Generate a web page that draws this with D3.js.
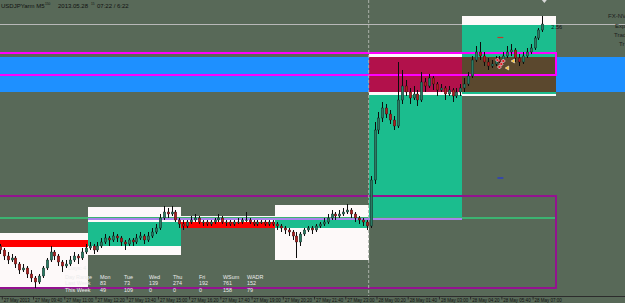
<!DOCTYPE html>
<html><head><meta charset="utf-8">
<script src="https://cdn.jsdelivr.net/npm/d3@7"></script>
<style>html,body{margin:0;padding:0;background:#586958;overflow:hidden}svg{display:block}</style>
</head><body><svg id="c" width="625" height="303"></svg>
<script>
// ---------- DATA ----------
const symbolTitle = "USDJPYarm M5";
const titleDate = "2013.05.28";
const titleTime = "07:22 / 6:22";
const candleStart = "2013-05-27 08:00";
const candleMinutes = 10;
// [open, high, low, close]
const candles = [
[101.29,101.31,101.25,101.27],[101.27,101.28,101.23,101.25],[101.25,101.26,101.20,101.22],[101.22,101.24,101.18,101.20],
[101.20,101.23,101.19,101.21],[101.21,101.22,101.16,101.18],[101.18,101.19,101.13,101.15],[101.15,101.18,101.14,101.16],
[101.16,101.17,101.11,101.13],[101.13,101.15,101.09,101.11],[101.11,101.12,101.06,101.09],[101.09,101.13,101.08,101.12],
[101.12,101.17,101.11,101.16],[101.16,101.21,101.15,101.20],[101.20,101.27,101.19,101.24],[101.24,101.25,101.20,101.22],
[101.22,101.23,101.17,101.19],[101.19,101.20,101.14,101.17],[101.17,101.20,101.16,101.18],[101.18,101.22,101.17,101.20],
[101.20,101.24,101.19,101.22],[101.22,101.23,101.18,101.21],[101.21,101.26,101.20,101.24],[101.24,101.28,101.23,101.26],
[101.26,101.29,101.25,101.27],[101.27,101.28,101.23,101.25],[101.25,101.29,101.24,101.27],[101.27,101.31,101.26,101.29],
[101.29,101.33,101.28,101.31],[101.31,101.32,101.27,101.30],[101.30,101.34,101.29,101.32],[101.32,101.33,101.29,101.31],
[101.31,101.32,101.27,101.29],[101.29,101.30,101.25,101.28],[101.28,101.31,101.27,101.30],[101.30,101.31,101.27,101.29],
[101.29,101.33,101.28,101.31],[101.31,101.34,101.30,101.32],[101.32,101.33,101.28,101.30],[101.30,101.34,101.29,101.32],
[101.32,101.36,101.31,101.34],[101.34,101.38,101.33,101.36],[101.36,101.43,101.35,101.41],[101.41,101.47,101.40,101.44],
[101.44,101.46,101.41,101.43],[101.43,101.47,101.42,101.44],[101.44,101.45,101.39,101.40],[101.40,101.41,101.36,101.38],
[101.38,101.40,101.35,101.37],[101.37,101.40,101.36,101.39],[101.39,101.42,101.38,101.40],[101.40,101.43,101.39,101.41],
[101.41,101.42,101.38,101.39],[101.39,101.40,101.37,101.39],[101.39,101.40,101.37,101.38],[101.38,101.40,101.37,101.39],
[101.39,101.41,101.38,101.40],[101.40,101.43,101.39,101.41],[101.41,101.42,101.38,101.39],[101.39,101.40,101.37,101.39],
[101.39,101.40,101.37,101.38],[101.38,101.40,101.37,101.39],[101.39,101.41,101.38,101.39],[101.39,101.41,101.38,101.40],
[101.40,101.44,101.39,101.40],[101.40,101.41,101.38,101.39],[101.39,101.40,101.37,101.38],[101.38,101.40,101.37,101.39],
[101.39,101.40,101.38,101.39],[101.39,101.40,101.37,101.38],[101.38,101.40,101.37,101.39],[101.39,101.40,101.37,101.38],
[101.38,101.39,101.35,101.37],[101.37,101.38,101.34,101.36],[101.36,101.37,101.33,101.35],[101.35,101.36,101.32,101.34],
[101.34,101.35,101.30,101.32],[101.32,101.34,101.21,101.29],[101.29,101.34,101.27,101.33],[101.33,101.36,101.32,101.35],
[101.35,101.37,101.34,101.36],[101.36,101.37,101.33,101.35],[101.35,101.38,101.34,101.37],[101.37,101.39,101.36,101.38],
[101.38,101.41,101.37,101.39],[101.39,101.43,101.38,101.41],[101.41,101.45,101.40,101.43],[101.43,101.44,101.40,101.42],
[101.42,101.45,101.41,101.43],[101.43,101.46,101.42,101.44],[101.44,101.48,101.43,101.45],[101.45,101.46,101.41,101.43],
[101.43,101.44,101.39,101.41],[101.41,101.42,101.38,101.40],[101.40,101.41,101.37,101.39],[101.39,101.40,101.35,101.37],
[101.37,101.62,101.36,101.60],[101.60,101.89,101.58,101.85],[101.85,101.94,101.83,101.91],[101.91,101.99,101.89,101.96],
[101.96,101.98,101.91,101.93],[101.93,101.95,101.88,101.90],[101.90,101.92,101.85,101.87],[101.87,102.19,101.86,102.00],
[102.00,102.15,101.98,102.07],[102.07,102.10,102.02,102.04],[102.04,102.06,101.98,102.01],[102.01,102.07,102.00,102.03],
[102.03,102.05,101.97,102.00],[102.00,102.14,101.99,102.09],[102.09,102.11,102.04,102.07],[102.07,102.13,102.06,102.11],
[102.11,102.12,102.05,102.08],[102.08,102.09,102.02,102.05],[102.05,102.08,102.04,102.06],[102.06,102.07,102.00,102.03],
[102.03,102.07,102.02,102.05],[102.05,102.06,101.99,102.02],[102.02,102.06,102.01,102.04],[102.04,102.08,102.02,102.06],
[102.06,102.11,102.04,102.08],[102.08,102.14,102.07,102.12],[102.12,102.22,102.11,102.20],[102.20,102.27,102.19,102.24],
[102.24,102.29,102.20,102.22],[102.22,102.24,102.17,102.19],[102.19,102.21,102.15,102.17],[102.17,102.20,102.16,102.18],
[102.18,102.22,102.17,102.20],[102.20,102.22,102.17,102.19],[102.19,102.24,102.18,102.22],[102.22,102.27,102.21,102.24],
[102.24,102.28,102.22,102.25],[102.25,102.26,102.19,102.21],[102.21,102.23,102.17,102.19],[102.19,102.24,102.18,102.22],
[102.22,102.26,102.21,102.24],[102.24,102.28,102.23,102.26],[102.26,102.32,102.25,102.31],[102.31,102.36,102.30,102.35],
[102.35,102.42,102.34,102.38]
];
const currentPrice = 102.38;
const spreadLabel = "2.56";

// session boxes: [from, to, high, low]
const rangeBoxes = [
 ["2013-05-27 08:00","2013-05-27 12:00",101.335,101.06],
 ["2013-05-27 12:00","2013-05-27 16:00",101.465,101.225],
 ["2013-05-27 16:00","2013-05-27 20:00",101.42,101.39],
 ["2013-05-27 20:00","2013-05-28 00:00",101.475,101.20],
 ["2013-05-28 00:00","2013-05-28 04:00",102.24,102.025],
 ["2013-05-28 04:00","2013-05-28 08:00",102.42,102.02]
];
// session bands: [from, to, high, low, direction]
const bandBoxes = [
 ["2013-05-27 08:00","2013-05-27 12:00",101.30,101.265,"down"],
 ["2013-05-27 12:00","2013-05-27 16:00",101.39,101.27,"up"],
 ["2013-05-27 16:00","2013-05-27 20:00",101.39,101.36,"down"],
 ["2013-05-27 20:00","2013-05-28 00:00",101.405,101.36,"up"],
 ["2013-05-28 00:00","2013-05-28 04:00",102.025,101.41,"up"],
 ["2013-05-28 04:00","2013-05-28 08:00",102.375,102.03,"up"]
];
// zone overlays: [from, to, high, low, kind]
const zoneBoxes = [
 ["2013-05-28 00:00","2013-05-28 04:00",102.215,102.04,"supply"],
 ["2013-05-28 04:00","2013-05-28 08:00",102.215,102.04,"active"]
];
const dailyZone = [102.215, 102.04];
const weeklyRect = ["2013-05-27 08:00","2013-05-28 08:00",102.235,102.125];
const dayRect = ["2013-05-27 08:00","2013-05-28 08:00",101.52,101.06];
const pivotLevel = ["2013-05-27 08:00","2013-05-28 08:00",101.41];
const midLevel = ["2013-05-27 12:00","2013-05-28 04:00",101.405];
const daySeparator = "2013-05-28 00:00";
const tradeMarks = [
 ["2013-05-28 05:30",102.20,"open"],["2013-05-28 05:45",102.195,"open"],
 ["2013-05-28 05:35",102.165,"open"],["2013-05-28 05:40",102.18,"open"],
 ["2013-05-28 06:10",102.195,"close"],["2013-05-28 05:55",102.16,"close"]
];
const blueDash = ["2013-05-28 05:30","2013-05-28 05:45",101.61];
const redDash = ["2013-05-28 05:30","2013-05-28 05:45",102.3125];

const tickTimes = ["2013-05-27 08:20","2013-05-27 09:40","2013-05-27 11:00","2013-05-27 12:20","2013-05-27 13:40","2013-05-27 15:00","2013-05-27 16:20","2013-05-27 17:40","2013-05-27 19:00","2013-05-27 20:20","2013-05-27 21:40","2013-05-27 23:00","2013-05-28 00:20","2013-05-28 01:40","2013-05-28 03:00","2013-05-28 04:20","2013-05-28 05:40","2013-05-28 07:00"];
const tickLabels = ["27 May 2013","27 May 09:40","27 May 11:00","27 May 12:20","27 May 13:40","27 May 15:00","27 May 16:20","27 May 17:40","27 May 19:00","27 May 20:20","27 May 21:40","27 May 23:00","28 May 00:20","28 May 01:40","28 May 03:00","28 May 04:20","28 May 05:40","28 May 07:00"];

const tableHeader = ["Day Range","Mon","Tue","Wed","Thu","Fri","WSum","WADR"];
const lastWeek = ["Last Week","83","73","139","274","192","761","152"];
const thisWeek = ["This Week","49","109","0","0","0","158","79"];
const panelLabels = ["FX-NV","Exp","Trad","Tr"];

// ---------- DRAW ----------
const W = 625, H = 303;
const parse = d3.timeParse("%Y-%m-%d %H:%M");
const svg = d3.select("#c");
const x = d3.scaleTime().domain([parse("2013-05-27 08:00"), parse("2013-05-28 08:00")]).range([-6, 556]);
const y = d3.scaleLinear().domain([101.00, 102.50]).range([300, 0]);
const col = {bg:"#586958", blue:"#1e90ff", white:"#fdf9f9", up:"#1bbd8e", down:"#ff0000",
  supply:"#b2114b", active:"#5b482e", magenta:"#ff00ff", purple:"#93128f", pivot:"#3cb371",
  mid:"#a884ec", price:"#b8b8b8", bull:"#2a7c64", bear:"#b01e1e", wick:"#0c0c0c"};
const font = "'Liberation Sans', Arial, sans-serif";

svg.append("rect").attr("width",W).attr("height",H).attr("fill",col.bg);

const g = svg.append("g").attr("shape-rendering","crispEdges");
g.append("rect").attr("x",0).attr("width",W)
  .attr("y",y(dailyZone[0])).attr("height",y(dailyZone[1])-y(dailyZone[0])).attr("fill",col.blue);
svg.append("line").attr("x1",x(parse(daySeparator))).attr("x2",x(parse(daySeparator)))
  .attr("y1",0).attr("y2",296).attr("stroke","#a9b0a8").attr("stroke-dasharray","3,2").attr("stroke-width",1);
g.append("line").attr("x1",0).attr("x2",W).attr("y1",Math.round(y(currentPrice))+0.5).attr("y2",Math.round(y(currentPrice))+0.5)
  .attr("stroke",col.price);

function box(sel, d, fill){
  sel.append("rect").attr("x",x(parse(d[0]))).attr("width",x(parse(d[1]))-x(parse(d[0])))
    .attr("y",y(d[2])).attr("height",y(d[3])-y(d[2])).attr("fill",fill);
}
rangeBoxes.forEach(d=>box(g,d,col.white));
bandBoxes.forEach(d=>box(g,d,d[4]==="up"?col.up:col.down));
zoneBoxes.forEach(d=>box(g,d,d[4]==="supply"?col.supply:col.active));

function outline(d, stroke){
  g.append("rect").attr("x",x(parse(d[0]))).attr("width",x(parse(d[1]))-x(parse(d[0])))
    .attr("y",y(d[2])).attr("height",y(d[3])-y(d[2])).attr("fill","none").attr("stroke",stroke).attr("stroke-width",1.3);
}
function hline(d, stroke, w){
  g.append("line").attr("x1",x(parse(d[0]))).attr("x2",x(parse(d[1])))
    .attr("y1",y(d[2])).attr("y2",y(d[2])).attr("stroke",stroke).attr("stroke-width",w);
}
hline(pivotLevel, col.pivot, 1.2);
hline(midLevel, col.mid, 1.2);
outline(dayRect, col.purple);
outline(weeklyRect, col.magenta);

// candles
const t0 = parse(candleStart);
const cg = svg.append("g");
candles.forEach((c,i)=>{
  const ts = d3.timeMinute.offset(t0, i*candleMinutes + candleMinutes/2);
  const cx = Math.round(x(ts)) + 0.5;
  const [o,h,l,cl] = c;
  cg.append("line").attr("x1",cx).attr("x2",cx).attr("y1",y(h)).attr("y2",y(l))
    .attr("stroke",col.wick).attr("stroke-width",1);
  const top = y(Math.max(o,cl)), bot = y(Math.min(o,cl));
  cg.append("rect").attr("x",cx-1.3).attr("width",2.6).attr("y",top).attr("height",Math.max(0.8,bot-top))
    .attr("fill", cl>=o ? col.bull : col.bear).attr("stroke",col.wick).attr("stroke-width",0.35);
});

[[blueDash,"#2233dd"],[redDash,"#c0392b"]].forEach(([d,c])=>{
  svg.append("line").attr("x1",x(parse(d[0]))).attr("x2",x(parse(d[1]))).attr("y1",y(d[2])).attr("y2",y(d[2]))
    .attr("stroke",c).attr("stroke-width",1.2);
});
tradeMarks.forEach(m=>{
  const mx = x(parse(m[0])), my = y(m[1]);
  if(m[2]==="open"){
    svg.append("path").attr("d",`M${mx},${my-2}L${mx+2},${my}L${mx},${my+2}L${mx-2},${my}Z`)
      .attr("fill","#e0202a").attr("stroke","#fff").attr("stroke-width",0.6);
  } else {
    svg.append("path").attr("d",`M${mx-2},${my}L${mx+1.5},${my-2}L${mx+1.5},${my+2}Z`)
      .attr("fill","#ffc125").attr("stroke","#fff").attr("stroke-width",0.5);
  }
});

const lastT = d3.timeMinute.offset(t0, (candles.length-1)*candleMinutes + candleMinutes/2);
const lx = x(lastT)+2;
svg.append("path").attr("d",`M${lx-2.5},0L${lx+2.5},0L${lx},3Z`).attr("fill","#d8d8d8");

svg.append("text").attr("x",x(lastT)+9).attr("y",y(currentPrice)+5).text(spreadLabel)
  .attr("font-family",font).attr("font-size",5.5).attr("fill","#111");

const prx = [608,615,614,619], pry = [18,27.5,36.5,45.5];
panelLabels.forEach((t,i)=>svg.append("text").attr("x",prx[i]).attr("y",pry[i]).text(t)
  .attr("font-family",font).attr("font-size",6).attr("fill","#1c1c1c"));

// title
const tfont = (sx,sy,fs,t)=>svg.append("text").attr("x",sx).attr("y",sy).attr("font-size",fs)
  .attr("font-family",font).attr("fill","#111").text(t);
tfont(1,8,6,symbolTitle);
tfont(45,4.5,3.2,"150");
tfont(58,8,6,titleDate);
tfont(91,4.5,3.2,"15");
tfont(97,8,6,titleTime);

// table
const colX = [65,100,124,149,173,199,223,247];
const rowY = [278.5,285,291.5];
[tableHeader,lastWeek,thisWeek].forEach((row,r)=>{
  row.forEach((t,i)=>svg.append("text").attr("x",colX[i]).attr("y",rowY[r]).text(t)
    .attr("font-family",font).attr("font-size",5.4).attr("fill","#ececec"));
});
svg.append("text").attr("x",68).attr("y",269.5).text("Days: 4")
  .attr("font-family",font).attr("font-size",5.4).attr("fill","#ececec");

// time axis
svg.append("line").attr("x1",0).attr("x2",W).attr("y1",296.5).attr("y2",296.5).attr("stroke","#2c2c2c");
const ax = d3.axisBottom(x).tickValues(tickTimes.map(parse)).tickSize(3)
  .tickFormat((d,i)=>tickLabels[i]);
const axg = svg.append("g").attr("transform","translate(0,296.5)").call(ax);
axg.select(".domain").remove();
axg.selectAll(".tick line").attr("stroke","#2c2c2c");
axg.selectAll(".tick text").attr("text-anchor","start").attr("dx",1.5).attr("y",2).attr("dy","0.71em")
  .attr("font-family",font).attr("font-size",4.5).attr("fill","#111");
</script>
</body></html>
